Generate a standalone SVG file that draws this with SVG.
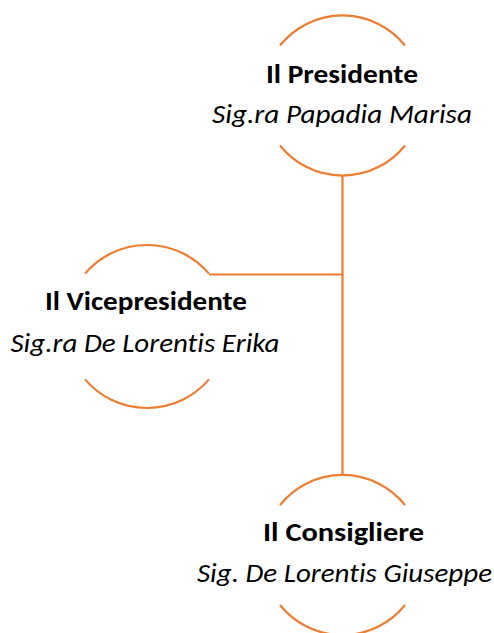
<svg xmlns="http://www.w3.org/2000/svg" width="494" height="633" viewBox="0 0 494 633">
  <style>
    .arc { fill: none; stroke: #ED7D31; stroke-width: 2.2; }
    .conn { fill: none; stroke: #ED7D31; stroke-width: 2.2; }
    .title { font-family: Carlito, Lato, "Open Sans", sans-serif; font-weight: bold; font-size: 26px; fill: #000; text-anchor: middle; font-variant-ligatures: none; }
    .name { font-family: Carlito, Lato, "Open Sans", sans-serif; font-style: italic; font-size: 26px; fill: #000; text-anchor: middle; font-variant-ligatures: none; }
  </style>
  <rect width="494" height="633" fill="#fff"/>
  <g id="connectors">
    <path class="conn" d="M342.5,175.5 V475"/>
    <path class="conn" d="M209,274.5 H342.5"/>
  </g>
  <g id="presidente">
    <path class="arc" d="M280,45.5 A80,80 0 0 1 405,45.5"/>
    <path class="arc" d="M280,145.5 A80,80 0 0 0 405,145.5"/>
    <text class="title" x="342" y="83" textLength="152" lengthAdjust="spacingAndGlyphs">Il Presidente</text>
    <text class="name" x="342" y="123" textLength="260" lengthAdjust="spacingAndGlyphs">Sig.ra Papadia Marisa</text>
  </g>
  <g id="vicepresidente">
    <path class="arc" d="M85,273.6 A81.5,81.5 0 0 1 209,273.6"/>
    <path class="arc" d="M85,379.4 A81.5,81.5 0 0 0 209,379.4"/>
    <text class="title" x="146" y="310" textLength="202" lengthAdjust="spacingAndGlyphs">Il Vicepresidente</text>
    <text class="name" x="145" y="352" textLength="269" lengthAdjust="spacingAndGlyphs">Sig.ra De Lorentis Erika</text>
  </g>
  <g id="consigliere">
    <path class="arc" d="M280,505 A80,80 0 0 1 405,505"/>
    <path class="arc" d="M280,605 A80,80 0 0 0 405,605"/>
    <text class="title" x="343.5" y="541" textLength="161" lengthAdjust="spacingAndGlyphs">Il Consigliere</text>
    <text class="name" x="344.5" y="582" textLength="295" lengthAdjust="spacingAndGlyphs">Sig. De Lorentis Giuseppe</text>
  </g>
</svg>
